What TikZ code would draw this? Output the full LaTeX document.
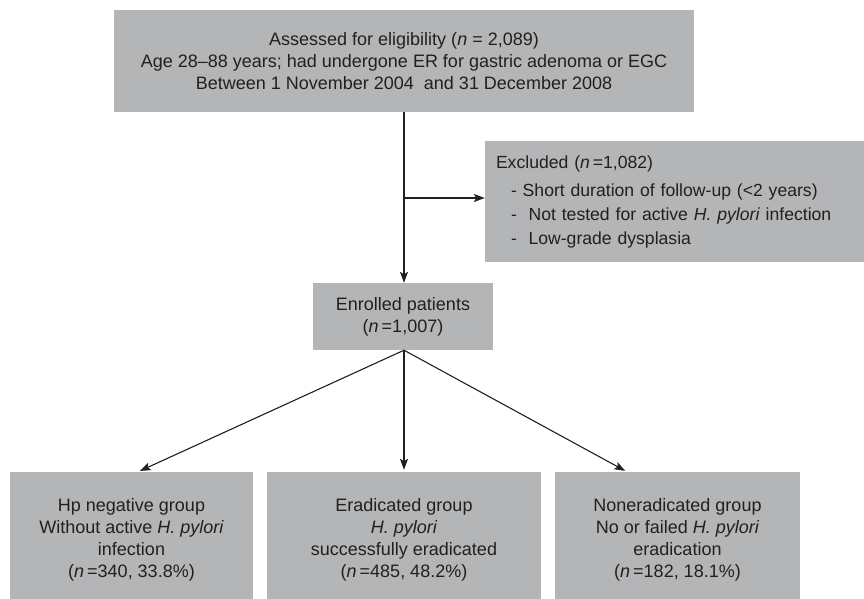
\documentclass[tikz,border=0pt]{standalone}
\usepackage{fontspec}
\setmainfont{Liberation Sans}
\usetikzlibrary{arrows.meta}
\definecolor{boxgray}{RGB}{180,181,183}
\definecolor{ink}{RGB}{35,31,32}
\begin{document}
\begin{tikzpicture}[x=1pt,y=-1pt,
  box/.style={fill=boxgray, draw=none, inner sep=0pt, align=center, text=ink,
    font=\fontsize{18}{22}\selectfont},
  conn/.style={draw=ink, line width=1.1pt, -{Stealth[length=11pt,width=8pt,inset=2.5pt]}}]
\useasboundingbox (0,0) rectangle (864,598);
\node[box, minimum width=580pt, minimum height=102.5pt] (top) at (404,60.75)
  {Assessed for eligibility (\textit{n} = 2,089)\\
   Age 28–88 years; had undergone ER for gastric adenoma or EGC\\
   Between 1 November 2004\ \ and 31 December 2008};
\node[box, align=left, text width=357pt, inner xsep=11pt, minimum height=121pt,
  font=\fontsize{17.6}{24}\selectfont] (excl) at (674.5,201.5)
  {Excluded (\textit{n}\,=1,082)\\[4pt]
   \hspace*{15pt}- Short duration of follow-up (<2 years)\\
   \hspace*{15pt}-\ \ Not tested for active \textit{H. pylori} infection\\
   \hspace*{15pt}-\ \ Low-grade dysplasia};
\node[box, minimum width=180pt, minimum height=67pt] (enr) at (403,316.5)
  {Enrolled patients\\(\textit{n}\,=1,007)};
\node[box, minimum width=243pt, minimum height=135pt] (g1) at (131.5,539.5)
  {Hp negative group\\Without active \textit{H. pylori}\\infection\\(\textit{n}\,=340, 33.8\%)};
\node[box, minimum width=274pt, minimum height=135pt] (g2) at (404,539.5)
  {Eradicated group\\\textit{H. pylori}\\successfully eradicated\\(\textit{n}\,=485, 48.2\%)};
\node[box, minimum width=245pt, minimum height=135pt] (g3) at (677.5,539.5)
  {Noneradicated group\\No or failed \textit{H. pylori}\\eradication\\(\textit{n}\,=182, 18.1\%)};
\coordinate (br) at (404,198);
\draw[conn] (top.south) -- (top.south |- enr.north);
\draw[conn] (br) -- (br -| excl.west);
\coordinate (src) at ([xshift=1pt]enr.south);
\draw[conn, shorten >=2pt] (src) -- ([xshift=6.5pt]g1.north);
\draw[conn, shorten >=2pt] (src) -- (src |- g2.north);
\draw[conn, shorten >=2pt] (src) -- ([xshift=-50.5pt]g3.north);
\end{tikzpicture}
\end{document}
